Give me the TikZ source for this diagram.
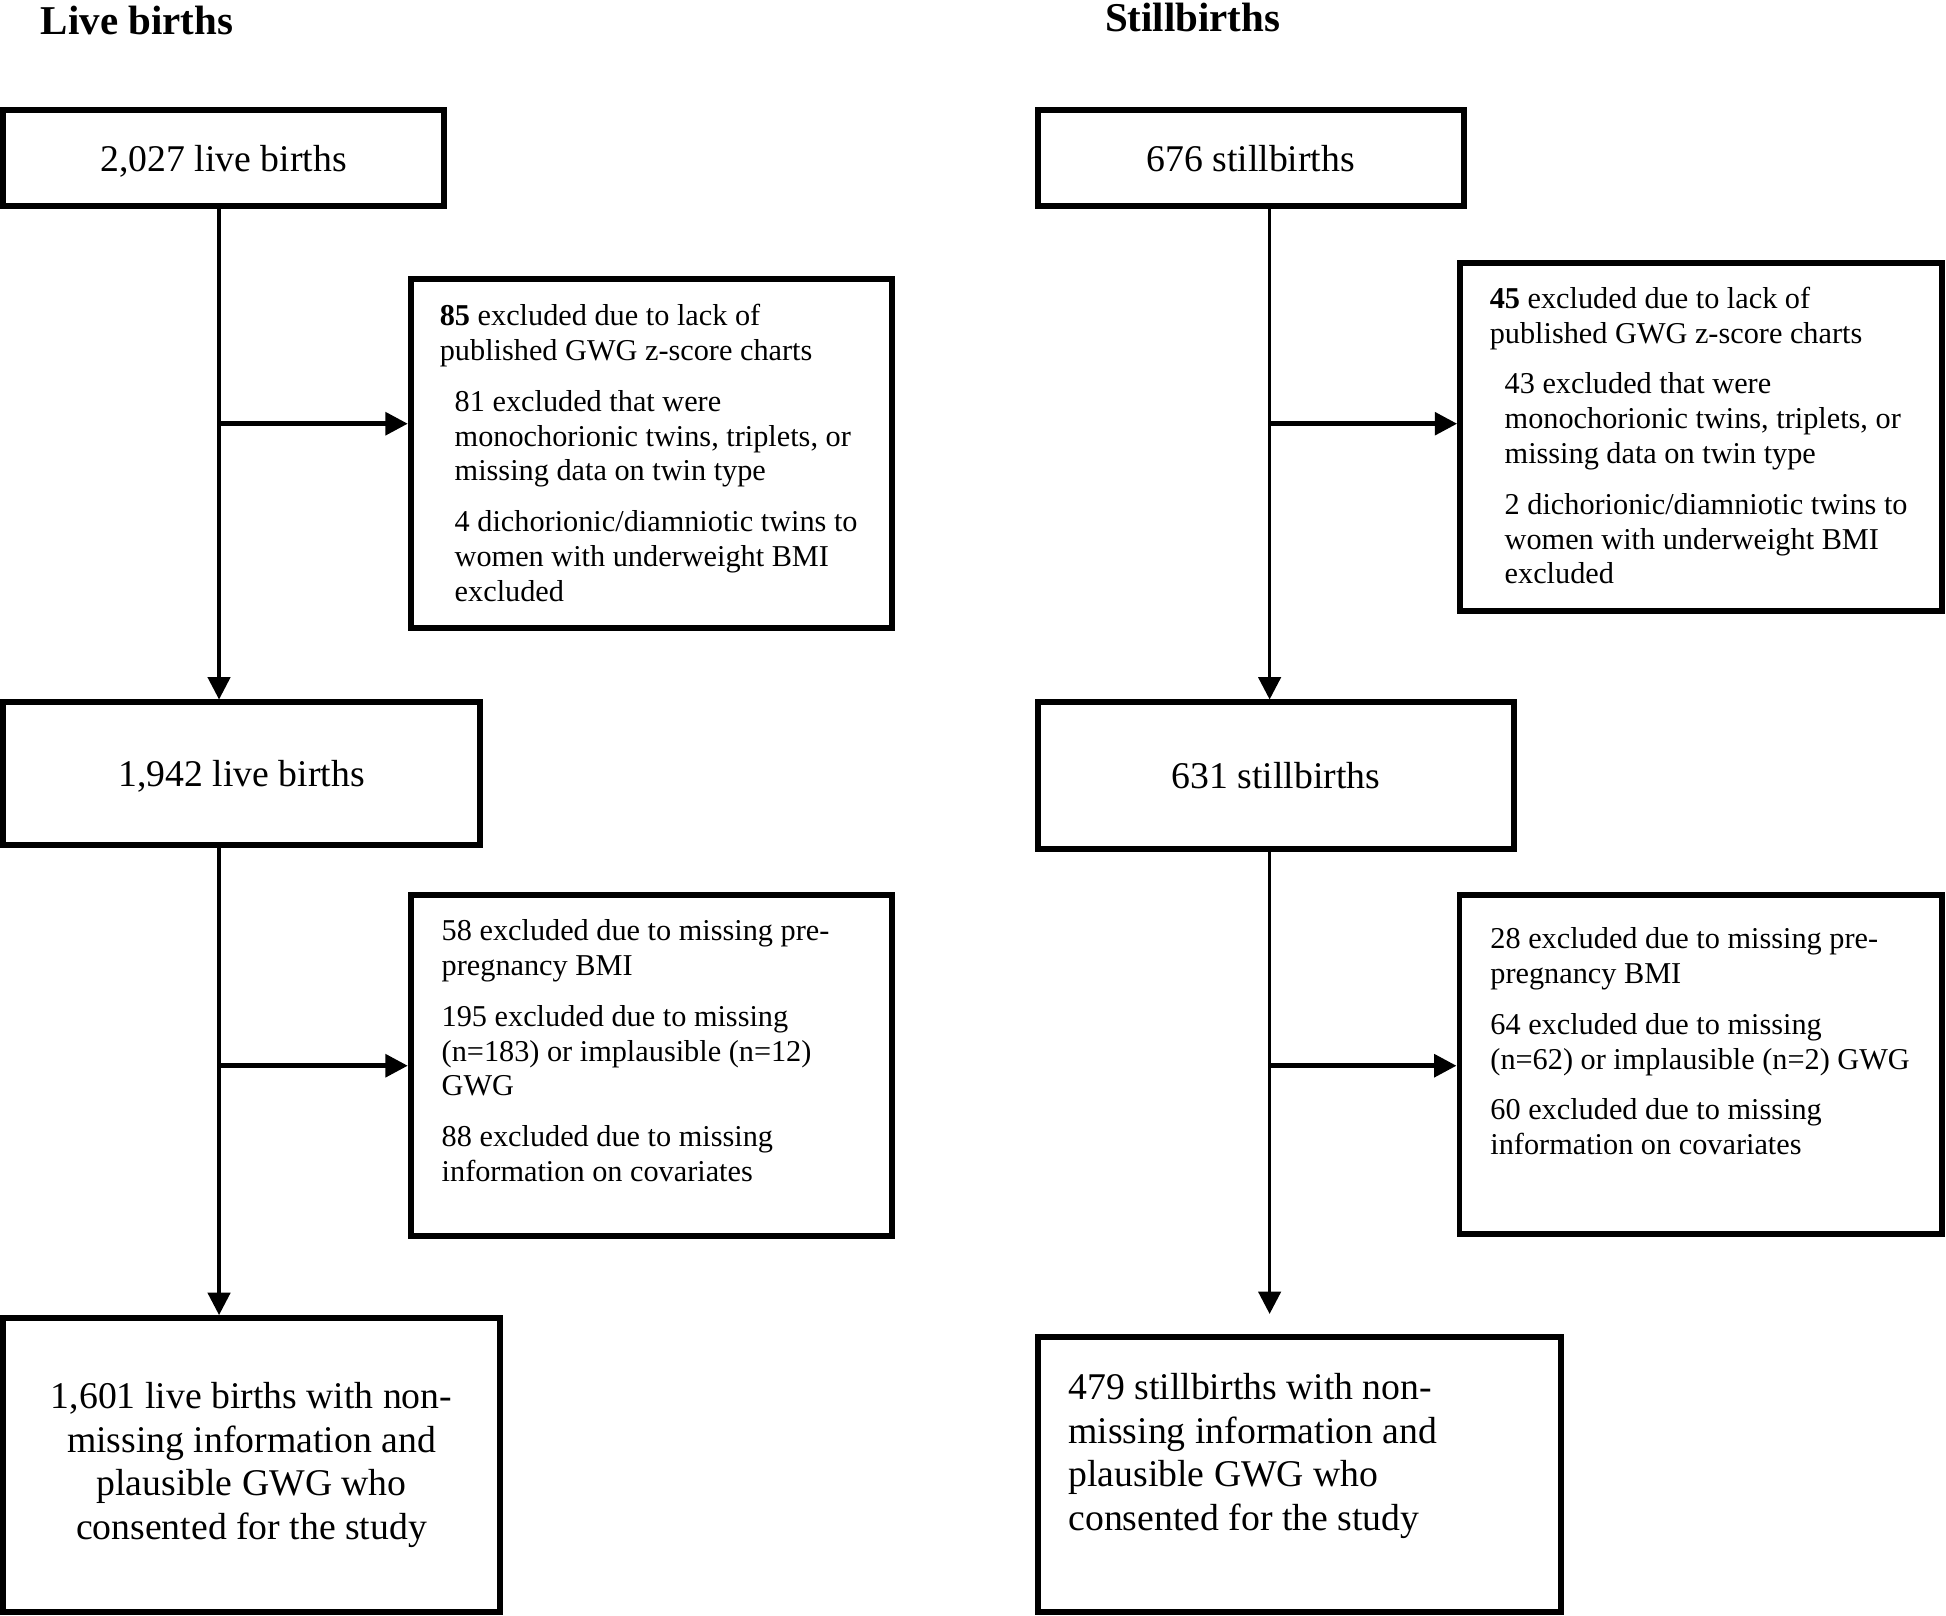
\documentclass[tikz,border=0pt]{standalone}
\usepackage{fontspec}
\setmainfont{Liberation Serif}
\usetikzlibrary{arrows.meta}

\begin{document}
\begin{tikzpicture}[x=0.5pt, y=-0.5pt,
	box/.style={draw, line width=2.4pt, inner sep=0pt},
	boxtext/.style={font=\fontsize{15.2pt}{17.5pt}\selectfont},
	extext/.style={font=\fontsize{12.2pt}{14pt}\selectfont, align=left, anchor=north west, inner sep=0pt},
	heading/.style={font=\fontsize{16.5pt}{19pt}\selectfont\bfseries, anchor=base west, inner sep=0pt},
	down/.style={line width=1.35pt, -{Triangle[length=9pt, width=9pt]}},
	side/.style={line width=1.9pt, -{Triangle[length=9pt, width=9pt]}}]
	\useasboundingbox (0,0) rectangle (1568,1302);

	\node[heading] (ttlA) at (32.5,27.4) {Live births};
	\node[heading] (ttlB) at (890,25) {Stillbirths};

	\node[box, boxtext, text depth=0pt, minimum width=177.8pt, minimum height=38.5pt] (A1) at (180.2,127.5) {2,027 live births};
	\node[box, boxtext, text depth=0pt, minimum width=171.75pt, minimum height=38.5pt] (B1) at (1007.75,127.5) {676 stillbirths};
	\node[box, boxtext, text depth=0pt, minimum width=192.3pt, minimum height=57.5pt] (A2) at (194.7,623.5) {1,942 live births};
	\node[box, boxtext, minimum width=192pt, minimum height=59pt] (B2) at (1028,625) {631 stillbirths};
	\node[box, boxtext, align=center, minimum width=200.3pt, minimum height=118.5pt] (A3) at (202.7,1180.5) {1,601 live births with non-\\missing information and\\plausible GWG who\\consented for the study};
	\node[box, minimum width=211pt, minimum height=111pt] (B3) at (1047,1188) {};
	\node[boxtext, align=left, anchor=north west, inner sep=0pt] (B3txt) at (860.5,1103) {\strut 479 stillbirths with non-\\missing information and\\plausible GWG who\\consented for the study};

	\node[box, minimum width=194pt, minimum height=140.5pt] (exA1) at (525,365.5) {};
	\node[box, minimum width=194.25pt, minimum height=140.2pt] (exB1) at (1370.75,351.8) {};
	\node[box, minimum width=194pt, minimum height=137.25pt] (exA2) at (525,858.75) {};
	\node[box, minimum width=194.5pt, minimum height=136.25pt] (exB2) at (1370.5,857.75) {};

	\node[extext] (exA1txt) at (354,242.4) {\strut\textbf{85} excluded due to lack of\\published GWG z-score charts\\[6.5pt]\hspace*{6pt}81 excluded that were\\\hspace*{6pt}monochorionic twins, triplets, or\\\hspace*{6pt}missing data on twin type\\[6.5pt]\hspace*{6pt}4 dichorionic/diamniotic twins to\\\hspace*{6pt}women with underweight BMI\\\hspace*{6pt}excluded};
	\node[extext] (exB1txt) at (1200,228.4) {\strut\textbf{45} excluded due to lack of\\published GWG z-score charts\\[6.5pt]\hspace*{6pt}43 excluded that were\\\hspace*{6pt}monochorionic twins, triplets, or\\\hspace*{6pt}missing data on twin type\\[6.5pt]\hspace*{6pt}2 dichorionic/diamniotic twins to\\\hspace*{6pt}women with underweight BMI\\\hspace*{6pt}excluded};
	\node[extext] (exA2txt) at (355.5,737.9) {\strut 58 excluded due to missing pre-\\pregnancy BMI\\[6.5pt]195 excluded due to missing\\(n=183) or implausible (n=12)\\GWG\\[6.5pt]88 excluded due to missing\\information on covariates};
	\node[extext] (exB2txt) at (1200.5,744.4) {\strut 28 excluded due to missing pre-\\pregnancy BMI\\[6.5pt]64 excluded due to missing\\(n=62) or implausible (n=2) GWG\\[6.5pt]60 excluded due to missing\\information on covariates};

	\coordinate (colA) at (176.5,0);
	\coordinate (colB) at (1023,0);
	\coordinate (brA1) at (176.5,341.4);
	\coordinate (brA2) at (176.5,858.7);
	\coordinate (brB1) at (1023,341.4);
	\coordinate (brB2) at (1023,858.7);
	\coordinate (endB) at (1023,1058.7);

	\draw[down] (A1.south -| colA) -- (A2.north -| colA);
	\draw[down] (A2.south -| colA) -- (A3.north -| colA);
	\draw[down] (B1.south -| colB) -- (B2.north -| colB);
	\draw[down] (B2.south -| colB) -- (endB);

	\draw[side] (brA1) -- (brA1 -| exA1.west);
	\draw[side] (brA2) -- (brA2 -| exA2.west);
	\draw[side] (brB1) -- (brB1 -| exB1.west);
	\draw[side] (brB2) -- (brB2 -| exB2.west);
\end{tikzpicture}
\end{document}
